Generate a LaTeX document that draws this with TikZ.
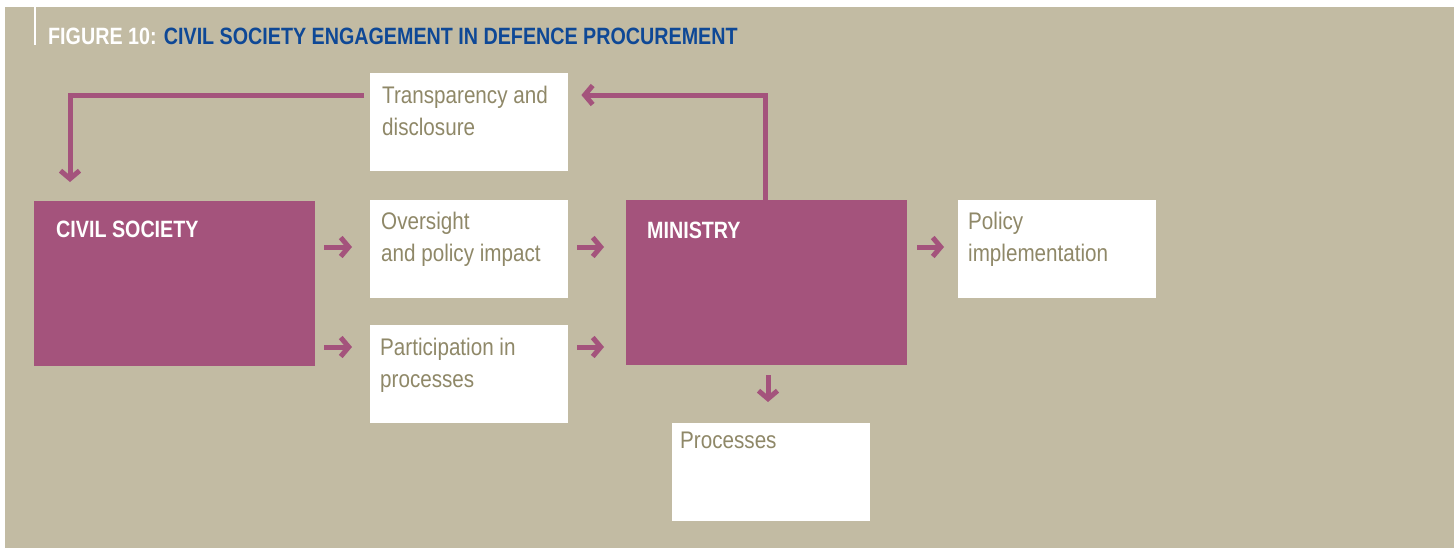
\documentclass[tikz,border=0pt]{standalone}
\usepackage{fontspec}
\setmainfont{Liberation Sans}[FakeStretch=0.86, BoldFeatures={FakeStretch=0.835}]
\usetikzlibrary{arrows.meta}
\definecolor{bg}{RGB}{194,187,163}
\definecolor{mag}{RGB}{164,83,124}
\definecolor{olive}{RGB}{143,136,104}
\definecolor{ttl}{RGB}{14,72,150}
\begin{document}
\begin{tikzpicture}[x=1pt,y=-1pt,
  box/.style={fill=white, minimum width=198pt, minimum height=98pt, anchor=north west, inner sep=0pt},
  mbox/.style={fill=mag, minimum width=281pt, minimum height=165pt, anchor=north west, inner sep=0pt},
  txt/.style={anchor=north west, inner sep=0pt, align=left, text=olive, font=\fontsize{24}{32}\selectfont},
  btxt/.style={anchor=north west, inner sep=0pt, text=white, font=\bfseries\fontsize{23.6}{28}\selectfont},
  arr/.style={draw=mag, line width=5pt, line join=miter, -{Straight Barb[length=8pt,width=19pt]}}
]
\useasboundingbox (0,0) rectangle (1454,549);
\fill[white] (0,0) rectangle (1454,549);
\fill[bg] (5,7) rectangle (1454,548);
\draw[white, line width=2pt] (35,7) -- (35,45);
\node[anchor=base west, inner sep=0pt, font=\bfseries\fontsize{23.6}{28}\selectfont] (title) at (48,44.5)
  {\textcolor{white}{FIGURE 10:} \textcolor{ttl}{CIVIL SOCIETY ENGAGEMENT IN DEFENCE PROCUREMENT}};
% boxes
\node[mbox] (cs) at (34,201) {};
\node[btxt] (cst) at (56,221) {CIVIL SOCIETY};
\node[box] (tr) at (370,73) {};
\node[txt] (trt) at (382,86) {Transparency and\\disclosure};
\node[box] (ov) at (370,200) {};
\node[txt] (ovt) at (381,212) {Oversight\\and policy impact};
\node[box] (pa) at (370,325) {};
\node[txt] (pat) at (380,338) {Participation in\\processes};
\node[mbox] (mi) at (626,200) {};
\node[btxt] (mit) at (647,222) {MINISTRY};
\node[box] (po) at (958,200) {};
\node[txt] (pot) at (968,212) {Policy\\implementation};
\node[box] (pr) at (672,423) {};
\node[txt] (prt) at (680,432) {Processes};
% helper coordinates
\coordinate (c1) at (70,95);
\coordinate (c2) at (765,95);
\coordinate (y1) at (0,247);
\coordinate (y2) at (0,347);
\coordinate (xd) at (768,0);
% connectors
\draw[arr, shorten <=6pt, shorten >=19pt] (tr.west |- c1) -- (c1) -- (c1 |- cs.north);
\draw[arr, shorten >=13pt] (mi.north -| c2) -- (c2) -- (c2 -| tr.east);
\draw[arr, shorten <=9pt, shorten >=18pt] (cs.east |- y1) -- (ov.west |- y1);
\draw[arr, shorten <=9pt, shorten >=18pt] (cs.east |- y2) -- (pa.west |- y2);
\draw[arr, shorten <=9pt, shorten >=22pt] (ov.east |- y1) -- (mi.west |- y1);
\draw[arr, shorten <=9pt, shorten >=22pt] (pa.east |- y2) -- (mi.west |- y2);
\draw[arr, shorten <=10pt, shorten >=14pt] (mi.east |- y1) -- (po.west |- y1);
\draw[arr, shorten <=10pt, shorten >=21pt] (mi.south -| xd) -- (pr.north -| xd);
\end{tikzpicture}
\end{document}
